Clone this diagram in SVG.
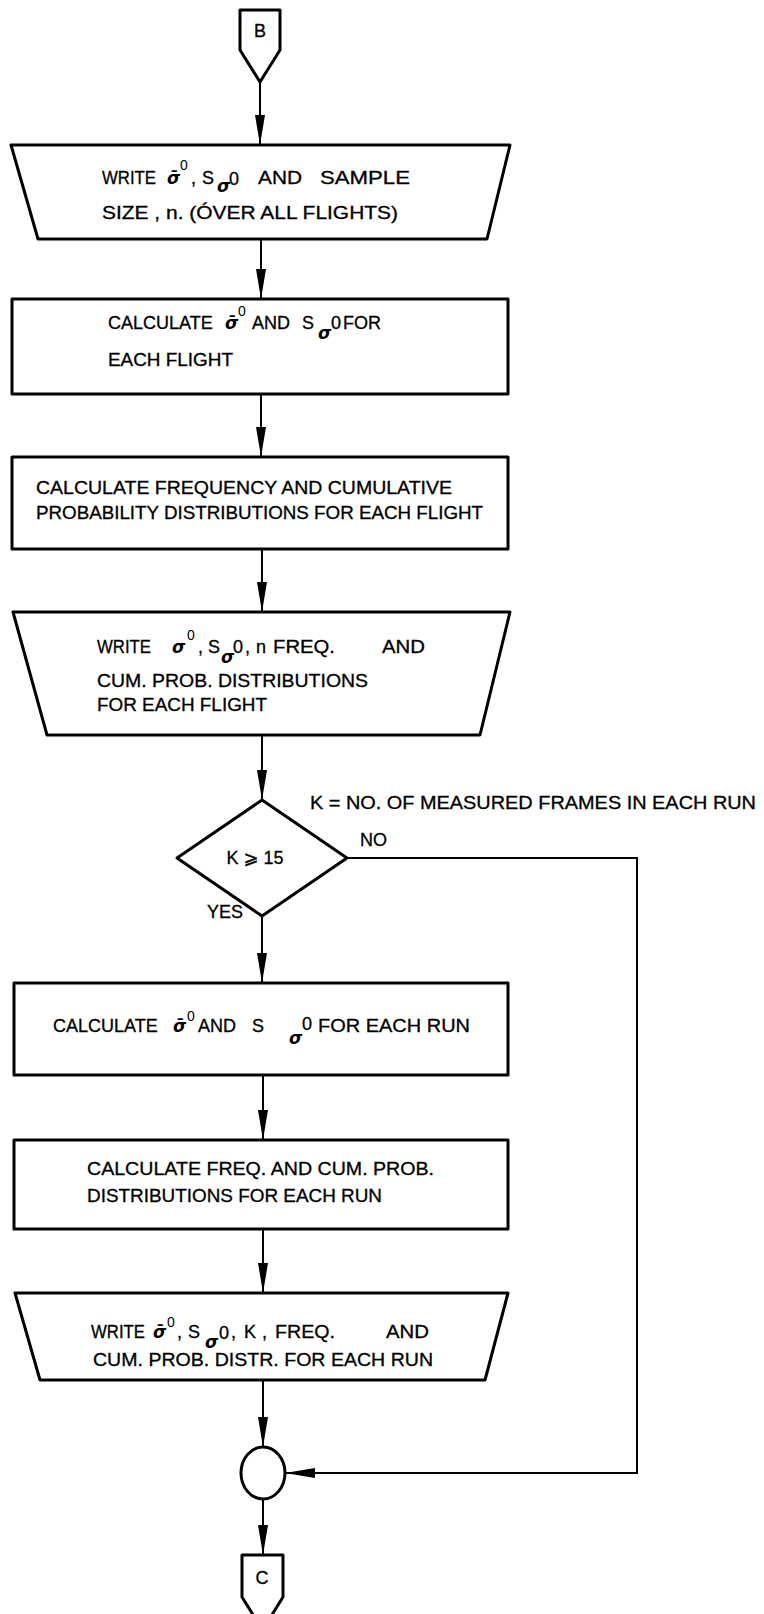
<svg xmlns="http://www.w3.org/2000/svg" width="764" height="1614" viewBox="0 0 764 1614">
<style>
.shape{fill:#fff;stroke:#000;stroke-width:3;stroke-linejoin:round}
.conn{fill:none;stroke:#000;stroke-width:2}
.t{font-family:"Liberation Sans","DejaVu Sans",sans-serif;font-size:18px;fill:#000;stroke:#000;stroke-width:0.3}
.s{font-family:"DejaVu Sans","Liberation Sans",sans-serif;font-style:italic;font-weight:bold;font-size:17px;fill:#000}
.sup{font-family:"Liberation Sans",sans-serif;font-size:14px;fill:#000}
</style>
<defs>
<marker id="ah" viewBox="0 0 30 10" refX="30" refY="5" markerWidth="30" markerHeight="10" markerUnits="userSpaceOnUse" orient="auto">
<path d="M0,0 L30,5 L0,10 z" fill="#000"/>
</marker>
</defs>
<rect width="764" height="1614" fill="#fff"/>
<g id="connectors">
<line class="conn" x1="260" y1="82" x2="260" y2="145" marker-end="url(#ah)"/>
<line class="conn" x1="261" y1="239" x2="261" y2="299" marker-end="url(#ah)"/>
<line class="conn" x1="261" y1="394" x2="261" y2="457" marker-end="url(#ah)"/>
<line class="conn" x1="262" y1="549" x2="262" y2="612" marker-end="url(#ah)"/>
<line class="conn" x1="262" y1="735" x2="262" y2="800" marker-end="url(#ah)"/>
<line class="conn" x1="262" y1="916" x2="262" y2="983" marker-end="url(#ah)"/>
<line class="conn" x1="263" y1="1075" x2="263" y2="1140" marker-end="url(#ah)"/>
<line class="conn" x1="263" y1="1229" x2="263" y2="1293" marker-end="url(#ah)"/>
<line class="conn" x1="263" y1="1380" x2="263" y2="1447" marker-end="url(#ah)"/>
<line class="conn" x1="263" y1="1499" x2="263" y2="1555" marker-end="url(#ah)"/>
<polyline class="conn" points="347,858 637,858 637,1473 285,1473" marker-end="url(#ah)"/>
</g>
<g id="connB">
<path class="shape" d="M240,10 H280 V50 L260,82 L240,50 Z"/>
<text class="t" x="260" y="37" text-anchor="middle" font-size="15">B</text>
</g>
<g id="write1">
<path class="shape" d="M11,145 H510 L487,239 H38 Z"/>
<text class="t" x="102" y="184" textLength="54" lengthAdjust="spacingAndGlyphs">WRITE</text>
<text class="s" x="167" y="184">σ̄</text>
<text class="sup" x="180" y="170">0</text>
<text class="t" x="191" y="184">,</text>
<text class="t" x="202" y="184">S</text>
<text class="s" x="217" y="192">σ</text>
<text class="t" x="229" y="185">0</text>
<text class="t" x="258" y="184" textLength="44" lengthAdjust="spacingAndGlyphs">AND</text>
<text class="t" x="320" y="184" textLength="90" lengthAdjust="spacingAndGlyphs">SAMPLE</text>
<text class="t" x="102" y="219" textLength="296" lengthAdjust="spacingAndGlyphs">SIZE , n.  (ÓVER ALL FLIGHTS)</text>
</g>
<g id="calc1">
<rect class="shape" x="12" y="299" width="496" height="95"/>
<text class="t" x="108" y="329">CALCULATE</text>
<text class="s" x="225" y="329">σ̄</text>
<text class="sup" x="238" y="316">0</text>
<text class="t" x="252" y="329">AND</text>
<text class="t" x="302" y="329">S</text>
<text class="s" x="318" y="339">σ</text>
<text class="t" x="331" y="329">0</text>
<text class="t" x="343" y="329">FOR</text>
<text class="t" x="108" y="366" textLength="125" lengthAdjust="spacingAndGlyphs">EACH FLIGHT</text>
</g>
<g id="calc2">
<rect class="shape" x="12" y="457" width="496" height="92"/>
<text class="t" x="36" y="494" textLength="416" lengthAdjust="spacingAndGlyphs">CALCULATE FREQUENCY AND CUMULATIVE</text>
<text class="t" x="36" y="519" textLength="447" lengthAdjust="spacingAndGlyphs">PROBABILITY DISTRIBUTIONS FOR EACH FLIGHT</text>
</g>
<g id="write2">
<path class="shape" d="M13,612 H510 L480,735 H47 Z"/>
<text class="t" x="97" y="653" textLength="54" lengthAdjust="spacingAndGlyphs">WRITE</text>
<text class="s" x="172" y="653">σ</text>
<text class="sup" x="187" y="640">0</text>
<text class="t" x="198" y="653">,</text>
<text class="t" x="208" y="653">S</text>
<text class="s" x="221" y="663">σ</text>
<text class="t" x="233" y="653">0</text>
<text class="t" x="245" y="653">,</text>
<text class="t" x="256" y="653">n</text>
<text class="t" x="273" y="653" textLength="62" lengthAdjust="spacingAndGlyphs">FREQ.</text>
<text class="t" x="382" y="653" textLength="43" lengthAdjust="spacingAndGlyphs">AND</text>
<text class="t" x="97" y="687" textLength="271" lengthAdjust="spacingAndGlyphs">CUM. PROB. DISTRIBUTIONS</text>
<text class="t" x="97" y="711" textLength="170" lengthAdjust="spacingAndGlyphs">FOR EACH FLIGHT</text>
</g>
<g id="decision">
<path class="shape" d="M262,800 L347,858 L262,916 L177,858 Z"/>
<text class="t" x="255" y="864" text-anchor="middle">K ⩾ 15</text>
</g>
<g id="labels">
<text class="t" x="310" y="809" textLength="446" lengthAdjust="spacingAndGlyphs">K = NO. OF MEASURED FRAMES IN EACH RUN</text>
<text class="t" x="360" y="846">NO</text>
<text class="t" x="207" y="918">YES</text>
</g>
<g id="calc3">
<rect class="shape" x="14" y="983" width="494" height="92"/>
<text class="t" x="53" y="1032">CALCULATE</text>
<text class="s" x="173" y="1032">σ̄</text>
<text class="sup" x="187" y="1021">0</text>
<text class="t" x="198" y="1032">AND</text>
<text class="t" x="252" y="1032">S</text>
<text class="s" x="289" y="1044">σ</text>
<text class="t" x="302" y="1030">0</text>
<text class="t" x="318" y="1032" textLength="152" lengthAdjust="spacingAndGlyphs">FOR EACH RUN</text>
</g>
<g id="calc4">
<rect class="shape" x="14" y="1140" width="494" height="89"/>
<text class="t" x="87" y="1175" textLength="347" lengthAdjust="spacingAndGlyphs">CALCULATE FREQ. AND CUM. PROB.</text>
<text class="t" x="87" y="1202" textLength="295" lengthAdjust="spacingAndGlyphs">DISTRIBUTIONS FOR EACH RUN</text>
</g>
<g id="write3">
<path class="shape" d="M15,1293 H508 L485,1380 H40 Z"/>
<text class="t" x="91" y="1338" textLength="54" lengthAdjust="spacingAndGlyphs">WRITE</text>
<text class="s" x="153" y="1338">σ̄</text>
<text class="sup" x="167" y="1327">0</text>
<text class="t" x="177" y="1338">,</text>
<text class="t" x="188" y="1338">S</text>
<text class="s" x="205" y="1348">σ</text>
<text class="t" x="219" y="1339">0</text>
<text class="t" x="231" y="1338">,</text>
<text class="t" x="244" y="1338">K</text>
<text class="t" x="262" y="1338">,</text>
<text class="t" x="275" y="1338" textLength="60" lengthAdjust="spacingAndGlyphs">FREQ.</text>
<text class="t" x="386" y="1338" textLength="43" lengthAdjust="spacingAndGlyphs">AND</text>
<text class="t" x="93" y="1366" textLength="340" lengthAdjust="spacingAndGlyphs">CUM. PROB. DISTR. FOR EACH RUN</text>
</g>
<g id="join">
<ellipse class="shape" cx="263" cy="1473" rx="22" ry="26"/>
</g>
<g id="connC">
<path class="shape" d="M242,1555 H283 V1597 L262.5,1630 L242,1597 Z"/>
<text class="t" x="262" y="1584" text-anchor="middle" font-size="15">C</text>
</g>
</svg>
